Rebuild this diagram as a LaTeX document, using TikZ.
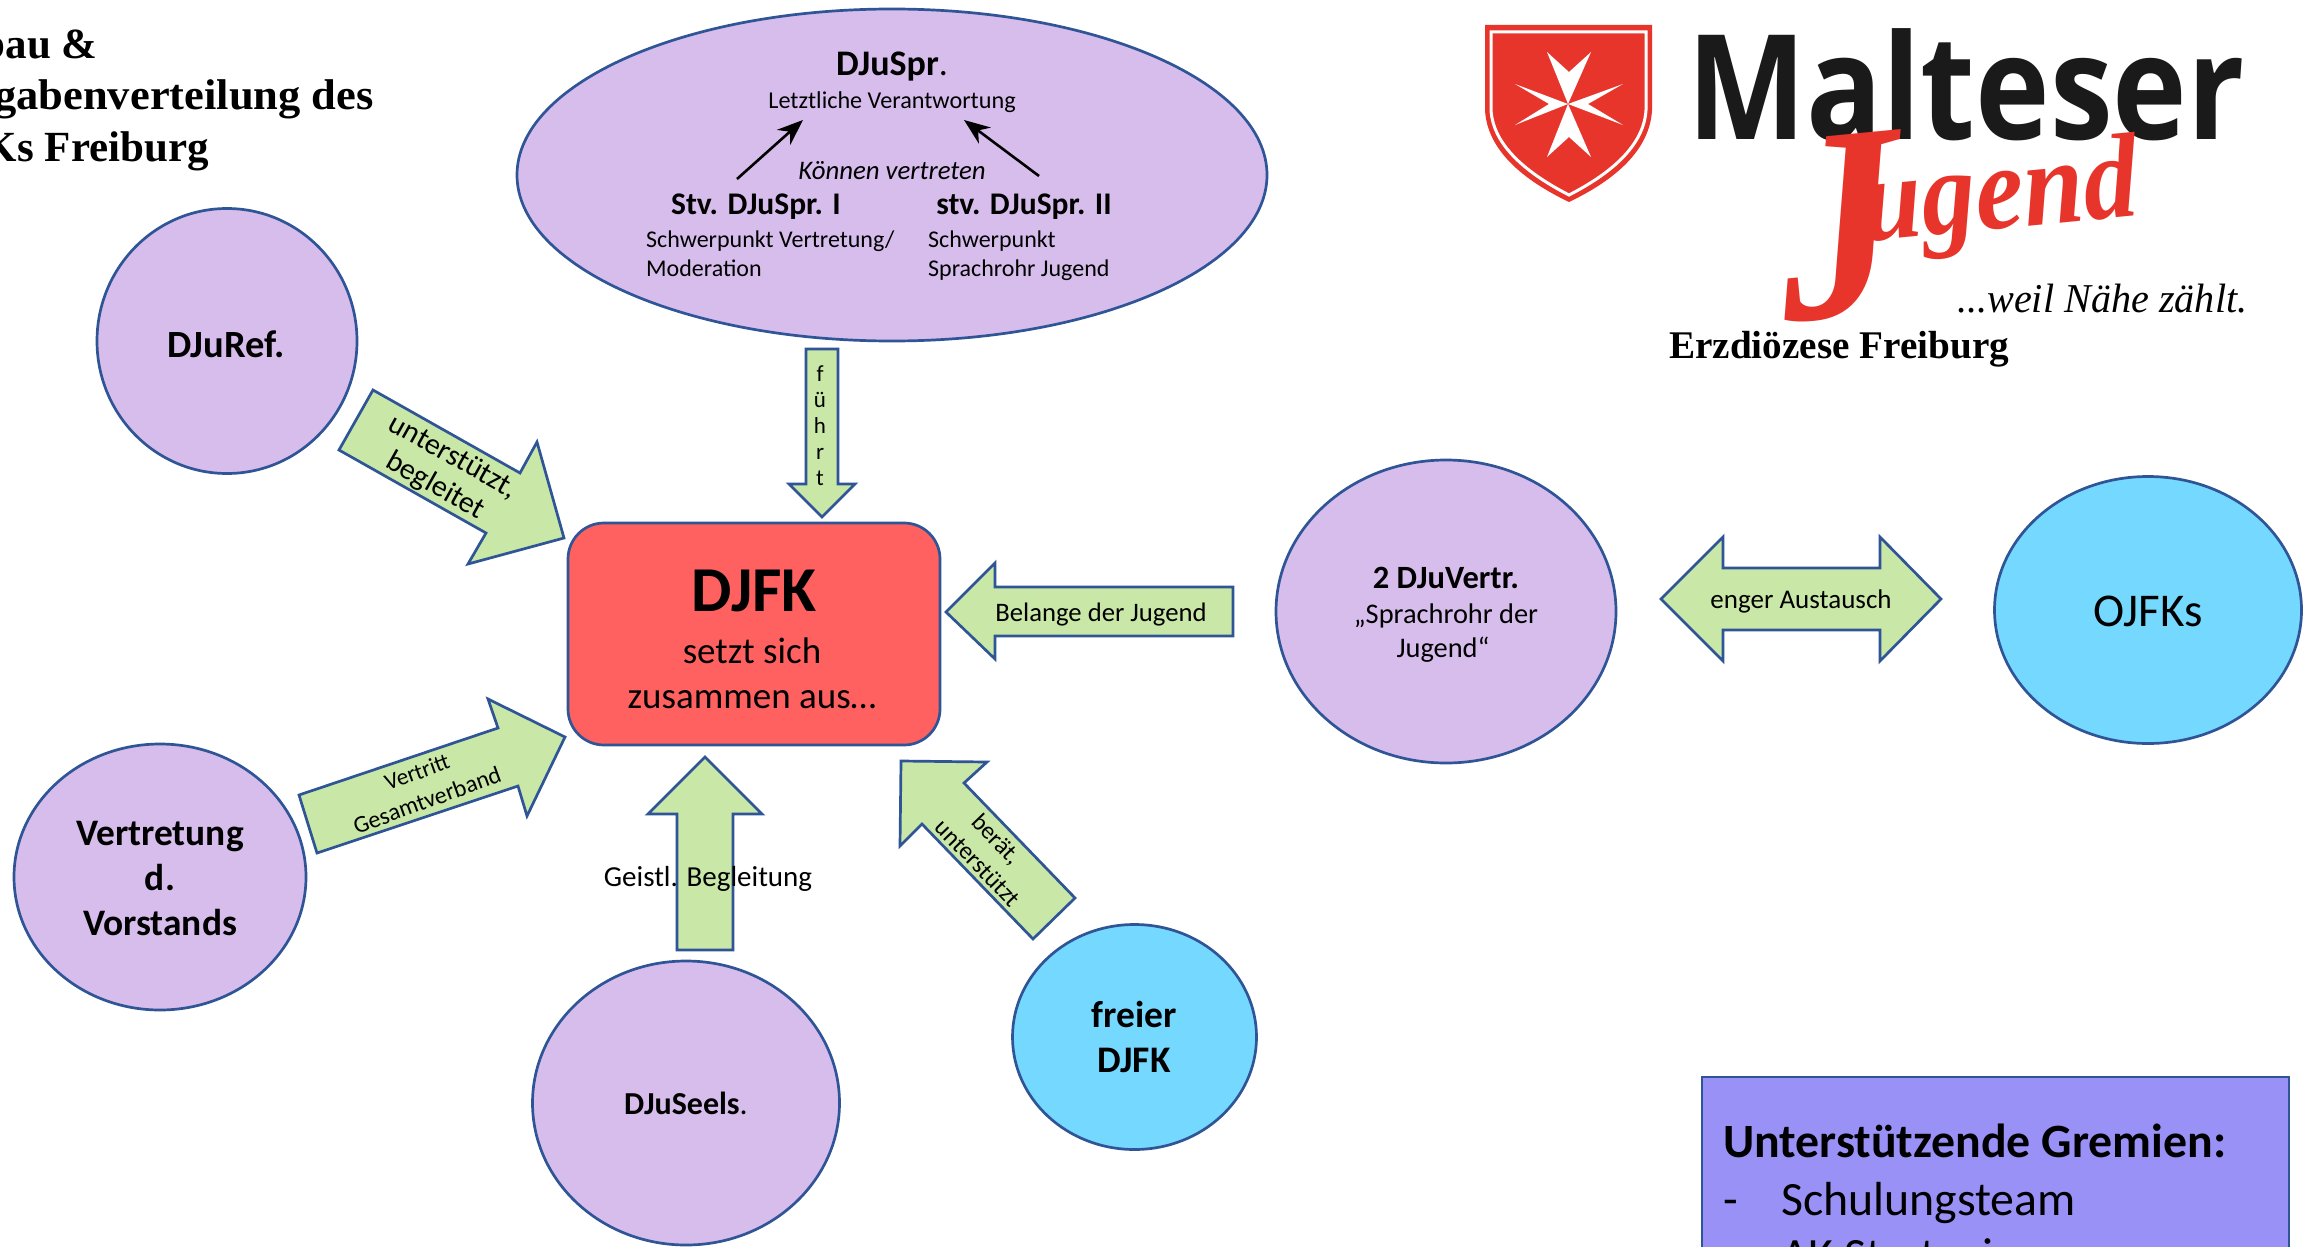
\documentclass[tikz,border=0pt]{standalone}
\usepackage{fontspec}
\setmainfont{Carlito}
\newfontfamily\serifbody{Liberation Serif}
\newfontfamily\logosans{Open Sans}
\usetikzlibrary{shapes.geometric,arrows.meta}
\definecolor{lila}{HTML}{D7BDEC}
\definecolor{edgeblue}{HTML}{2F5597}
\definecolor{arrowgreen}{HTML}{C9E7A7}
\definecolor{boxred}{HTML}{FF6161}
\definecolor{skyblue}{HTML}{75D9FF}
\definecolor{boxviolet}{HTML}{9A91F7}
\definecolor{logored}{HTML}{E7352C}
\definecolor{logoblack}{HTML}{1A1A1A}
\newcommand{\fs}[1]{\fontsize{#1}{#1}\selectfont}
\tikzset{
  x=1pt,y=-1pt,
  blob/.style={ellipse,draw=edgeblue,line width=2.7pt,inner sep=0pt},
  lilablob/.style={blob,fill=lila},
  skyblob/.style={blob,fill=skyblue},
  blockarrow/.style={draw=edgeblue,fill=arrowgreen,line width=2.7pt,line join=miter},
  lbl/.style={anchor=base,inner sep=0pt,text=black},
  innerarrow/.style={line width=2.6pt,-{Stealth[length=26pt,width=20pt]}},
}
\begin{document}
\begin{tikzpicture}
\useasboundingbox (0,0) rectangle (2318,1247);
\clip (0,0) rectangle (2318,1247);
\fill[white] (0,0) rectangle (2318,1247);

% title, cut by the left page edge
\node[lbl,anchor=base east,font=\serifbody\bfseries\fs{43}] (title1) at (98,59) {Aufbau \&};
\node[lbl,anchor=base east,xscale=1.035,font=\serifbody\bfseries\fs{43}] (title2) at (374,110) {Aufgabenverteilung des};
\node[lbl,anchor=base east,font=\serifbody\bfseries\fs{43}] (title3) at (209,161) {DJFKs Freiburg};

% main shapes
\node[lilablob,minimum width=750pt,minimum height=332pt] (spr) at (892,175) {};
\node[lilablob,minimum width=260pt,minimum height=265pt] (ref) at (227,341) {};
\node[lilablob,minimum width=292pt,minimum height=266pt] (vor) at (160,877) {};
\node[lilablob,minimum width=307pt,minimum height=284pt] (seel) at (686,1103) {};
\node[skyblob,minimum width=244pt,minimum height=225pt] (frei) at (1134.5,1037) {};
\node[lilablob,minimum width=340pt,minimum height=303pt] (vertr) at (1446,611.5) {};
\node[skyblob,minimum width=307pt,minimum height=267pt] (ojfk) at (2148,610) {};
\node[draw=edgeblue,fill=boxred,line width=2.7pt,rounded corners=36pt,minimum width=372pt,minimum height=222pt,inner sep=0pt] (djfk) at (754,634) {};
\node[draw=edgeblue,fill=boxviolet,line width=2.7pt,minimum width=587pt,minimum height=300pt,inner sep=0pt] (gremien) at (1995.5,1227) {};

% block arrows
\draw[blockarrow] (373,390) -- (339,450) -- (486,533) -- (468,564) -- (564,538) -- (537,442) -- (520,473) -- cycle;
\draw[blockarrow] (299,795) -- (317,853) -- (518,786) -- (527,816) -- (565,737) -- (488,699) -- (498,728) -- cycle;
\draw[blockarrow] (705,757) -- (648,814) -- (677,814) -- (677,950) -- (733,950) -- (733,814) -- (762,814) -- cycle;
\draw[blockarrow] (901,761) -- (987,762) -- (964,783) -- (1075,898) -- (1033,939) -- (922,824) -- (900,846) -- cycle;
\draw[blockarrow] (946,612) -- (995,563) -- (995,587) -- (1233,587) -- (1233,636) -- (995,636) -- (995,659) -- cycle;
\draw[blockarrow] (1661,599) -- (1723,537) -- (1723,568) -- (1880,568) -- (1880,537) -- (1941,599) -- (1880,661) -- (1880,630) -- (1723,630) -- (1723,661) -- cycle;
\draw[blockarrow] (806,349) -- (838,349) -- (838,484) -- (855,484) -- (822,517) -- (789,484) -- (806,484) -- cycle;

% texts in the big ellipse
\node[lbl,font=\fs{36}] (t1) at (892,76) {\textbf{DJuSpr}.};
\node[lbl,font=\fs{24.2}] (t2) at (892,108) {Letztliche Verantwortung};
\node[lbl,font=\itshape\fs{26.8}] (t3) at (892,179) {Können vertreten};
\node[lbl,font=\bfseries\fs{31.5}] (t4) at (756,214) {Stv. DJuSpr. I};
\node[lbl,font=\bfseries\fs{31.5}] (t5) at (1024,214) {stv. DJuSpr. II};
\node[lbl,anchor=base west,font=\fs{24}] (t6) at (646,247) {Schwerpunkt Vertretung/};
\node[lbl,anchor=base west,font=\fs{24}] (t7) at (646,276) {Moderation};
\node[lbl,anchor=base west,font=\fs{24}] (t8) at (928,247) {Schwerpunkt};
\node[lbl,anchor=base west,font=\fs{24}] (t9) at (928,276) {Sprachrohr Jugend};
\coordinate (a1s) at (737,179); \coordinate (a1e) at (803,120);
\coordinate (a2s) at (1039,176); \coordinate (a2e) at (964,120);
\draw[innerarrow] (a1s) -- (a1e);
\draw[innerarrow] (a2s) -- (a2e);

% node texts
\node[lbl,font=\bfseries\fs{38.5}] (tref) at (226,357) {DJuRef.};
\node[lbl,font=\bfseries\fs{37.4}] at (160,845) {Vertretung};
\node[lbl,font=\bfseries\fs{37.4}] at (160,890) {d.};
\node[lbl,font=\bfseries\fs{37.4}] at (160,935) {Vorstands};
\node[lbl,font=\fs{32}] at (686,1114) {\textbf{DJuSeels}.};
\node[lbl,font=\bfseries\fs{37.5}] at (1134,1027) {freier};
\node[lbl,font=\bfseries\fs{37.5}] at (1134,1072) {DJFK};
\node[lbl,font=\bfseries\fs{32.5}] at (1446,588) {2 DJuVertr.};
\node[lbl,font=\fs{28.4}] at (1446,623) {„Sprachrohr der};
\node[lbl,font=\fs{28.4}] at (1443,657) {Jugend“};
\node[lbl,font=\fs{47}] at (2148,626) {OJFKs};
\node[lbl,font=\bfseries\fs{64}] at (754,611) {DJFK};
\node[lbl,font=\fs{37}] at (752,663) {setzt sich};
\node[lbl,font=\fs{37}] at (752,708) {zusammen aus…};
\node[lbl,font=\fs{27}] at (1801,608) {enger Austausch};
\node[lbl,font=\fs{26.7}] at (1101,621) {Belange der Jugend};
\node[lbl,font=\fs{29},anchor=center] at (708,879) {Geistl. Begleitung};

% arrow texts
\node[lbl,anchor=center,font=\fs{30},rotate=-29.3] at (453,457) {unterstützt,};
\node[lbl,anchor=center,font=\fs{30},rotate=-29.3] at (435,486) {begleitet};
\node[lbl,anchor=center,font=\fs{23},rotate=20] at (417,772) {Vertritt};
\node[lbl,anchor=center,font=\fs{24},rotate=20] at (427,800) {Gesamtverband};
\node[lbl,anchor=center,font=\fs{24.5},rotate=-46] at (996,840) {berät,};
\node[lbl,anchor=center,font=\fs{24.5},rotate=-46] at (978,863) {unterstützt};
\node[lbl,font=\fs{23}] at (820,381) {f};
\node[lbl,font=\fs{23}] at (820,407) {ü};
\node[lbl,font=\fs{23}] at (820,433) {h};
\node[lbl,font=\fs{23}] at (820,459) {r};
\node[lbl,font=\fs{23}] at (820,485) {t};

% panel
\node[lbl,anchor=base west,font=\bfseries\fs{47.8}] at (1723,1157) {Unterstützende Gremien:};
\node[lbl,anchor=base west,font=\fs{47.8}] at (1723,1215) {-};
\node[lbl,anchor=base west,font=\fs{47.8}] at (1781,1215) {Schulungsteam};
\node[lbl,anchor=base west,font=\fs{47.8}] at (1723,1271) {-};
\node[lbl,anchor=base west,font=\fs{47.8}] at (1781,1271) {AK Strategie};

% logo: shield
\fill[logored] (1485,25) -- (1652,25) -- (1652,110) .. controls (1650,150) and (1615,180) .. (1569,202) .. controls (1523,180) and (1487,150) .. (1485,110) -- cycle;
\draw[white,line width=3pt] (1491,32) -- (1646,32) -- (1646,110) .. controls (1644,146) and (1610,174) .. (1569,195) .. controls (1528,174) and (1493,146) .. (1491,110) -- cycle;
\fill[white] (1568,104) -- (1547,52) -- (1569,72) -- (1591,52) -- cycle;
\fill[white] (1568,104) -- (1623,84) -- (1588,104) -- (1623,125) -- cycle;
\fill[white] (1568,104) -- (1591,157) -- (1569,137) -- (1547,157) -- cycle;
\fill[white] (1568,104) -- (1515,125) -- (1549,104) -- (1515,84) -- cycle;

% logo: words
\node[lbl,anchor=base west,xscale=.864,font=\logosans\bfseries\fs{146},text=logoblack] (malteser) at (1687,139) {Malteser};
\node[lbl,anchor=base west,xscale=.9,font=\serifbody\itshape\bfseries,text=logored,rotate=5] (jugend) at (1780,250) {\raisebox{-72pt}{\fs{275}J}\hspace{-43pt}{\fs{120}ugend}};
\node[lbl,anchor=base west,xscale=.98,font=\serifbody\itshape\fs{41}] (weil) at (1957,312) {...weil Nähe zählt.};
\node[lbl,anchor=base west,font=\serifbody\bfseries\fs{39.2}] (erz) at (1669,358) {Erzdiözese Freiburg};
\end{tikzpicture}
\end{document}
